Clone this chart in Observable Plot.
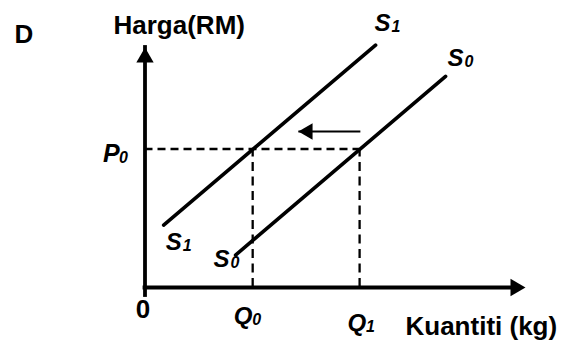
<!DOCTYPE html>
<html><head><meta charset="utf-8">
<script src="https://cdn.jsdelivr.net/npm/d3@7"></script>
<script src="https://cdn.jsdelivr.net/npm/@observablehq/plot@0.6"></script>
<style>body{margin:0;background:#fff}</style>
</head><body><div id="chart"></div>
<script>
// ---- data (chart units) ----
const axisMax = 10;
const priceP0 = 5.77;
const quantityQ0 = 2.83;
const quantityQ1 = 5.64;
const supplyS1 = [{q: 0.49, p: 2.6}, {q: 6.06, p: 10.1}];
const supplyS0 = [{q: 2.38, p: 1.35}, {q: 7.90, p: 8.8}];
const shiftFrom = 5.66, shiftTo = 4.03, shiftLevel = 6.5;
const yTitle = "Harga(RM)";
const xTitle = "Kuantiti (kg)";
const panelLetter = "D";

// ---- layout ----
const FONT = "Liberation Sans, Arial, Helvetica, sans-serif";
const quantities = [quantityQ0, quantityQ1];

// italic labels: main letter + subscript
const labels = [
  {main: "S", sub: "1", x: supplyS1[1].q, y: supplyS1[1].p, dx: -1, dy: -14, w: 17, fs: 24},
  {main: "S", sub: "0", x: supplyS0[1].q, y: supplyS0[1].p, dx: 2, dy: -10, w: 17, fs: 24},
  {main: "S", sub: "1", x: supplyS1[0].q, y: supplyS1[0].p, dx: 2, dy: 25, w: 17, fs: 24},
  {main: "S", sub: "0", x: supplyS0[0].q, y: supplyS0[0].p, dx: -22, dy: 12, w: 17, fs: 24},
  {main: "P", sub: "0", x: 0, y: priceP0, dx: -42, dy: 12.5, w: 16, fs: 25},
  {main: "Q", sub: "0", x: quantityQ0, y: 0, dx: -19, dy: 36, w: 18.5, fs: 24},
  {main: "Q", sub: "1", x: quantityQ1, y: 0, dx: -12, dy: 43, w: 18.5, fs: 24}
];

const chart = Plot.plot({
  width: 566,
  height: 340,
  marginLeft: 144.5,
  marginRight: 41,
  marginTop: 47,
  marginBottom: 53,
  x: {domain: [0, axisMax], axis: null},
  y: {domain: [0, axisMax], axis: null},
  style: {background: "#fff", fontFamily: FONT},
  marks: [
    // dashed guides
    Plot.ruleY([priceP0], {x1: 0, x2: quantityQ1, stroke: "#000", strokeWidth: 2.3, strokeDasharray: "8,5"}),
    Plot.ruleX(quantities, {x: d => d, y1: 0, y2: priceP0, stroke: "#000", strokeWidth: 2.3, strokeDasharray: "9,5.5"}),
    // supply curves
    Plot.line(supplyS1, {x: "q", y: "p", stroke: "#000", strokeWidth: 3.6}),
    Plot.line(supplyS0, {x: "q", y: "p", stroke: "#000", strokeWidth: 3.6}),
    // axes
    Plot.ruleX([0], {y1: 0, y2: axisMax, stroke: "#000", strokeWidth: 3.8, insetTop: 8, strokeLinecap: "square"}),
    Plot.ruleY([0], {x1: 0, x2: axisMax, stroke: "#000", strokeWidth: 3.8, insetRight: 8, strokeLinecap: "square"}),
    Plot.dot([0], {x: 0, y: axisMax, symbol: "triangle", r: 6.43, fill: "#000", dy: 10}),
    Plot.dot([0], {x: axisMax, y: 0, symbol: "triangle", r: 6.43, fill: "#000", rotate: 90, dx: -10}),
    // shift arrow
    Plot.link([0], {x1: shiftFrom, x2: shiftTo, y1: shiftLevel, y2: shiftLevel, stroke: "#000", strokeWidth: 1.8, insetLeft: 6}),
    Plot.dot([0], {x: shiftTo, y: shiftLevel, symbol: "triangle", r: 6.1, fill: "#000", rotate: -90, dx: 9.5}),
    // titles
    Plot.text([yTitle], {x: 0, y: axisMax, text: d => d, textAnchor: "start", lineAnchor: "bottom", dx: -31.5, dy: -14, fontSize: 26, fontWeight: "bold", fill: "#000"}),
    Plot.text([panelLetter], {x: 0, y: axisMax, text: d => d, textAnchor: "start", lineAnchor: "bottom", dx: -130.5, dy: -5, fontSize: 26, fontWeight: "bold", fill: "#000"}),
    Plot.text([xTitle], {x: axisMax, y: 0, text: d => d, textAnchor: "start", lineAnchor: "bottom", dx: -120, dy: 47, fontSize: 26, fontWeight: "bold", fill: "#000"}),
    Plot.text(["0"], {x: 0, y: 0, text: d => d, textAnchor: "middle", lineAnchor: "bottom", dx: -2, dy: 30, fontSize: 26, fontWeight: "bold", fill: "#000"}),
    // italic labels
    ...labels.map(l => Plot.text([l], {x: "x", y: "y", text: "main", textAnchor: "start", lineAnchor: "bottom", dx: l.dx, dy: l.dy, fontSize: l.fs, fontWeight: "bold", fontStyle: "italic", fill: "#000"})),
    ...labels.map(l => Plot.text([l], {x: "x", y: "y", text: "sub", textAnchor: "start", lineAnchor: "bottom", dx: l.dx + l.w, dy: l.dy + 1, fontSize: 16, fontWeight: "bold", fontStyle: "italic", fill: "#000"}))
  ]
});
document.getElementById("chart").append(chart);
</script>
</body></html>
